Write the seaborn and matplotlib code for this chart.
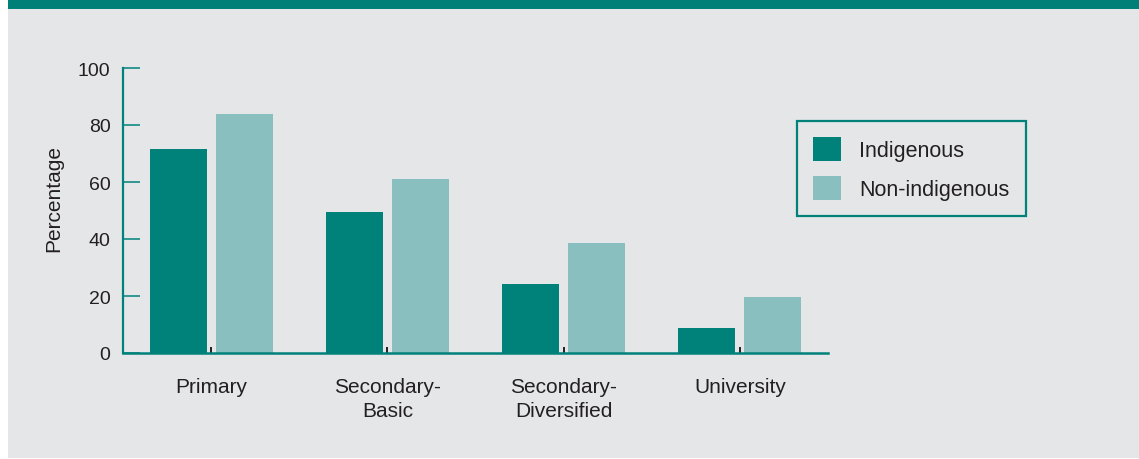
import matplotlib
matplotlib.use("Agg")
import matplotlib.pyplot as plt
from matplotlib.patches import Rectangle, Patch
import pandas as pd
import seaborn as sns

# Share of population completing each level of schooling
levels = ["Primary", "Secondary-\nBasic", "Secondary-\nDiversified", "University"]
indigenous = [71.5, 49.5, 24.2, 8.8]
non_indigenous = [84.0, 61.0, 38.6, 19.6]
groups = ["Indigenous", "Non-indigenous"]

TEAL = "#00827a"
LIGHT_TEAL = "#89bfbe"
PANEL = "#e5e6e8"
TEXT = "#231f20"

df = pd.DataFrame({
    "level": levels * 2,
    "value": indigenous + non_indigenous,
    "group": [groups[0]] * len(levels) + [groups[1]] * len(levels),
})

sns.set_theme(style="white")
plt.rcParams["font.family"] = ["Liberation Sans", "DejaVu Sans"]

W, H = 1139, 460
fig = plt.figure(figsize=(W / 100, H / 100), dpi=100, facecolor="white")

# grey panel with a teal band across the top
fig.patches.append(Rectangle((8 / W, 1 / H), 1 - 8 / W, 1 - 11 / H,
                             transform=fig.transFigure, facecolor=PANEL,
                             edgecolor="none", zorder=-10))
fig.patches.append(Rectangle((8 / W, 1 - 10 / H), 1 - 8 / W, 10 / H,
                             transform=fig.transFigure, facecolor="#007f78",
                             edgecolor="none", zorder=-10))

ax = fig.add_axes([123 / W, (H - 354) / H, (828 - 123) / W, (354 - 69) / H])
ax.patch.set_visible(False)

sns.barplot(data=df, x="level", y="value", hue="group", order=levels,
            hue_order=groups, palette=[TEAL, LIGHT_TEAL], width=0.75,
            gap=0.136, saturation=1, legend=False, ax=ax, zorder=3,
            linewidth=0, edgecolor="none")

ax.set_xlim(-0.5, len(levels) - 0.5)
ax.set_ylim(0, 100)
ax.set_yticks([0, 20, 40, 60, 80, 100])
ax.set_xlabel("")
ax.set_ylabel("Percentage", fontsize=15, color=TEXT)
ax.yaxis.set_label_coords(-0.085, 0.547)

for side in ("top", "right"):
    ax.spines[side].set_visible(False)
ax.spines["left"].set_color(TEAL)
ax.spines["left"].set_linewidth(1.6)
ax.spines["bottom"].set_color(TEAL)
ax.spines["bottom"].set_linewidth(1.8)
ax.spines["bottom"].set_zorder(4)

ax.tick_params(axis="y", direction="in", length=12.5, width=1.1,
               color=TEAL, labelsize=14, labelcolor=TEXT, pad=9, left=True)
ax.tick_params(axis="x", direction="in", length=4, width=1.4,
               color=TEXT, labelsize=15, labelcolor=TEXT, pad=17, bottom=True)
for lbl in ax.get_xticklabels():
    lbl.set_linespacing(1.35)
    lbl.set_verticalalignment("top")

handles = [Patch(facecolor=TEAL, edgecolor="none"),
           Patch(facecolor=LIGHT_TEAL, edgecolor="none")]
leg = fig.legend(handles, groups, loc="upper left",
                 bbox_to_anchor=(797 / W, 1 - 122 / H),
                 bbox_transform=fig.transFigure, fontsize=15.5,
                 frameon=True, fancybox=False, framealpha=1,
                 facecolor=PANEL, edgecolor=TEAL,
                 handlelength=1.3, handleheight=1.3, handletextpad=0.85,
                 labelspacing=0.7, borderpad=0.75, borderaxespad=0)
leg.get_frame().set_linewidth(1.6)
for t in leg.get_texts():
    t.set_color(TEXT)

fig.savefig("out.png", dpi=100, facecolor=fig.get_facecolor())
